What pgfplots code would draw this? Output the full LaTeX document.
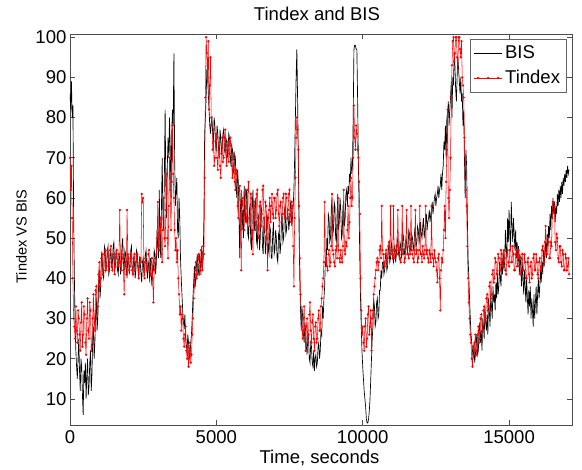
\documentclass[border=0pt]{standalone}
\usepackage{fontspec}
\setmainfont{Liberation Sans}
\usepackage{pgfplots}
\usepackage{pgfplotstable}
\pgfplotsset{compat=1.18}

\pgfplotstableread{
x b t
0 86 70
25 82 62
50 89 68
75 80 55
100 83 40
125 55 30
150 40 28
175 28 25
200 22 33
225 18 27
250 15 24
275 20 32
300 25 30
325 17 26
350 12 22
375 20 29
400 18 34
425 11 23
450 6 26
475 17 33
500 14 31
525 19 24
550 10 21
575 16 30
600 20 35
625 11 27
650 13 25
675 19 34
700 22 32
725 12 22
750 16 23
775 25 30
800 28 36
825 20 27
850 24 30
875 31 37
900 35 38
925 27 31
950 30 33
975 38 41
1000 42 44
1025 35 38
1050 38 40
1075 46 45
1100 45 46
1125 41 41
1150 40 42
1175 48 46
1200 47 47
1225 42 42
1250 43 43
1275 47 47
1300 48 46
1325 41 42
1350 42 44
1375 47 47
1400 46 48
1425 43 43
1450 44 42
1475 48 46
1500 49 45
1525 42 41
1550 43 44
1575 47 46
1600 46 47
1625 42 43
1650 41 43
1675 46 46
1700 45 57
1725 41 44
1750 43 42
1775 48 46
1800 50 45
1825 44 42
1850 42 36
1875 47 43
1900 46 44
1925 42 41
1950 40 57
1975 46 46
2000 45 45
2025 41 42
2050 43 43
2075 47 46
2100 48 45
2125 42 42
2150 41 41
2175 45 45
2200 44 46
2225 40 42
2250 42 44
2275 47 46
2300 46 46
2325 42 43
2350 40 40
2375 45 44
2400 44 45
2425 41 44
2450 39 61
2475 44 59
2500 45 60
2525 41 44
2550 42 40
2575 46 45
2600 47 44
2625 42 42
2650 40 43
2675 44 46
2700 43 47
2725 39 42
2750 45 41
2775 41 44
2800 38 45
2825 43 40
2850 42 34
2875 47 42
2900 46 44
2925 41 45
2950 44 46
2975 52 50
3000 48 59
3025 45 48
3050 62 47
3075 50 51
3100 45 55
3125 58 46
3150 70 44
3175 55 52
3200 52 60
3225 66 50
3250 82 48
3275 62 57
3300 55 66
3325 68 50
3350 75 45
3375 70 58
3400 80 70
3425 72 62
3450 60 52
3475 76 64
3500 82 78
3525 78 66
3550 96 60
3575 70 52
3600 58 47
3625 62 50
3650 65 44
3675 52 47
3700 50 40
3725 60 36
3750 55 31
3775 45 33
3800 40 27
3825 36 31
3850 32 30
3875 29 25
3900 28 23
3925 31 26
3950 25 28
3975 23 22
4000 22 20
4025 26 23
4050 24 18
4075 20 22
4100 21 24
4125 24 19
4150 26 21
4175 30 26
4200 35 30
4225 39 35
4250 43 38
4275 38 42
4300 40 44
4325 44 40
4350 46 41
4375 41 45
4400 42 46
4425 46 41
4450 44 42
4475 41 47
4500 48 45
4525 43 42
4550 45 48
4575 55 46
4600 76 65
4625 80 85
4650 85 100
4675 92 96
4700 90 90
4725 86 99
4750 82 82
4775 78 88
4800 76 95
4825 79 80
4850 80 78
4875 76 72
4900 74 74
4925 80 68
4950 78 70
4975 73 74
5000 72 76
5025 78 70
5050 76 67
5075 72 72
5100 70 73
5125 77 68
5150 75 65
5175 71 71
5200 73 75
5225 76 69
5250 77 70
5275 72 75
5300 71 77
5325 75 72
5350 74 68
5375 70 73
5400 72 74
5425 76 69
5450 75 71
5475 70 75
5500 68 73
5525 73 68
5550 72 65
5575 67 71
5600 66 70
5625 71 64
5650 70 62
5675 63 67
5700 60 66
5725 67 58
5750 64 55
5775 55 62
5800 45 63
5825 58 52
5850 62 42
5875 52 58
5900 57 60
5925 50 55
5950 63 52
5975 56 61
6000 54 62
6025 62 54
6050 60 55
6075 51 62
6100 50 64
6125 57 55
6150 58 53
6175 49 61
6200 47 60
6225 58 52
6250 62 46
6275 54 59
6300 52 58
6325 60 52
6350 58 54
6375 49 61
6400 48 62
6425 56 55
6450 55 50
6475 47 58
6500 50 59
6525 58 53
6550 57 56
6575 48 62
6600 46 63
6625 54 55
6650 53 52
6675 46 59
6700 49 58
6725 56 50
6750 55 42
6775 47 55
6800 46 57
6825 53 60
6850 52 54
6875 45 58
6900 45 61
6925 51 56
6950 54 55
6975 46 60
7000 47 60
7025 52 55
7050 50 57
7075 45 61
7100 44 62
7125 51 56
7150 52 53
7175 46 58
7200 48 59
7225 54 54
7250 55 56
7275 49 60
7300 50 61
7325 57 56
7350 58 55
7375 51 61
7400 52 60
7425 57 55
7450 56 57
7475 52 61
7500 54 62
7525 59 56
7550 58 54
7575 53 59
7600 55 58
7625 58 48
7650 62 38
7675 70 55
7700 80 65
7725 90 75
7750 97 80
7775 85 77
7800 70 72
7825 52 58
7850 40 45
7875 32 36
7900 27 32
7925 33 28
7950 30 25
7975 26 30
8000 24 33
8025 29 27
8050 27 22
8075 23 28
8100 21 30
8125 26 24
8150 25 26
8175 20 31
8200 19 34
8225 24 27
8250 23 24
8275 19 29
8300 18 31
8325 22 25
8350 17 22
8375 20 28
8400 21 29
8425 18 24
8450 19 25
8475 23 30
8500 24 32
8525 20 27
8550 22 27
8575 27 33
8600 26 35
8625 33 38
8650 30 40
8675 35 44
8700 38 59
8725 45 44
8750 43 45
8775 50 43
8800 47 42
8825 56 46
8850 55 47
8875 49 43
8900 50 44
8925 57 48
8950 60 61
8975 51 47
9000 52 46
9025 59 44
9050 58 43
9075 50 47
9100 49 48
9125 56 45
9150 61 60
9175 52 47
9200 54 45
9225 60 44
9250 57 47
9275 50 45
9300 51 44
9325 58 48
9350 59 62
9375 53 47
9400 55 46
9425 61 49
9450 62 48
9475 58 52
9500 63 58
9525 61 50
9550 66 54
9575 64 60
9600 70 65
9625 66 58
9650 68 60
9675 80 70
9700 97 83
9725 98 75
9750 98 72
9775 97 78
9800 97 76
9825 85 72
9850 70 70
9875 58 64
9900 45 56
9925 35 40
9950 28 32
9975 22 26
10000 18 28
10025 15 24
10050 12 22
10075 10 28
10100 8 30
10125 5 23
10150 4 25
10175 4 31
10200 5 33
10225 7 26
10250 10 28
10275 15 32
10300 20 22
10325 25 30
10350 28 32
10375 35 36
10400 33 38
10425 28 40
10450 29 42
10475 34 44
10500 35 45
10525 30 42
10550 31 44
10575 37 47
10600 37 48
10625 42 45
10650 40 58
10675 44 47
10700 44 46
10725 41 44
10750 42 43
10775 46 46
10800 46 47
10825 42 44
10850 43 45
10875 48 48
10900 47 49
10925 44 46
10950 45 58
10975 49 47
11000 48 46
11025 45 45
11050 44 58
11075 48 47
11100 47 45
11125 44 47
11150 46 48
11175 50 46
11200 49 57
11225 46 47
11250 45 46
11275 49 45
11300 48 44
11325 45 47
11350 47 58
11375 51 46
11400 50 47
11425 46 44
11450 46 45
11475 50 48
11500 49 57
11525 46 46
11550 48 46
11575 52 45
11600 51 48
11625 47 46
11650 47 58
11675 51 47
11700 50 46
11725 47 45
11750 48 44
11775 52 47
11800 51 57
11825 48 46
11850 49 47
11875 53 44
11900 52 45
11925 49 47
11950 50 58
11975 54 46
12000 51 46
12025 50 44
12050 53 48
12075 55 46
12100 50 45
12125 52 47
12150 54 58
12175 56 46
12200 52 47
12225 54 45
12250 55 44
12275 57 47
12300 54 46
12325 56 44
12350 57 58
12375 59 46
12400 56 45
12425 58 43
12450 60 47
12475 61 45
12500 58 44
12525 60 42
12550 61 39
12575 63 45
12600 60 46
12625 62 40
12650 63 32
12675 66 42
12700 62 45
12725 66 44
12750 68 47
12775 74 52
12800 72 58
12825 78 50
12850 70 64
12875 80 72
12900 81 82
12925 84 60
12950 78 55
12975 82 62
13000 85 70
13025 89 85
13050 80 93
13075 90 99
13100 88 100
13125 96 94
13150 93 96
13175 87 100
13200 84 100
13225 90 95
13250 95 92
13275 92 100
13300 89 100
13325 86 97
13350 90 95
13375 84 99
13400 86 90
13425 78 88
13450 82 85
13475 70 75
13500 60 65
13525 72 62
13550 68 58
13575 55 48
13600 45 40
13625 40 34
13650 35 30
13675 30 26
13700 26 24
13725 24 20
13750 22 18
13775 20 23
13800 24 22
13825 19 24
13850 21 26
13875 24 22
13900 26 21
13925 21 26
13950 22 28
13975 27 24
14000 29 25
14025 24 30
14050 27 31
14075 22 27
14100 30 27
14125 28 32
14150 25 33
14175 33 29
14200 29 30
14225 27 35
14250 31 36
14275 26 32
14300 35 33
14325 32 38
14350 28 39
14375 36 35
14400 33 36
14425 30 41
14450 38 42
14475 34 39
14500 36 40
14525 32 45
14550 39 44
14575 35 41
14600 41 41
14625 36 46
14650 38 45
14675 44 42
14700 40 42
14725 38 47
14750 45 46
14775 41 43
14800 47 43
14825 42 47
14850 44 45
14875 52 42
14900 47 41
14925 45 46
14950 55 47
14975 49 44
15000 57 43
15025 51 47
15050 47 48
15075 59 44
15100 53 44
15125 49 48
15150 55 46
15175 51 42
15200 47 42
15225 52 46
15250 45 47
15275 49 43
15300 44 43
15325 48 47
15350 41 45
15375 46 41
15400 43 41
15425 38 45
15450 44 46
15475 40 42
15500 36 42
15525 42 46
15550 38 44
15575 34 40
15600 40 40
15625 35 44
15650 31 45
15675 37 41
15700 33 39
15725 38 43
15750 30 44
15775 35 40
15800 32 41
15825 28 45
15850 36 46
15875 30 42
15900 34 42
15925 38 46
15950 31 44
15975 36 41
16000 40 40
16025 35 44
16050 38 45
16075 42 42
16100 39 43
16125 44 47
16150 41 48
16175 47 44
16200 43 44
16225 46 49
16250 49 53
16275 45 46
16300 51 46
16325 48 50
16350 53 49
16375 50 45
16400 56 45
16425 52 49
16450 58 48
16475 55 55
16500 60 59
16525 56 59
16550 59 58
16575 54 49
16600 58 47
16625 56 51
16650 61 50
16675 58 45
16700 62 44
16725 59 48
16750 63 48
16775 60 44
16800 64 43
16825 61 47
16850 65 46
16875 63 42
16900 66 42
16925 64 46
16950 67 45
16975 65 42
17000 68 43
17025 66 45
17050 67 41
}\data

\begin{document}
\begin{tikzpicture}
\def\fs{\fontsize{13.9}{16}\selectfont}
\begin{axis}[
  name=ax, at={(0,0)}, anchor=south west,
  scale only axis, width=376.5pt, height=293.25pt,
  xmin=0, xmax=17150, ymin=3.5, ymax=100.8,
  xtick={0,5000,10000,15000}, ytick={10,20,...,100},
  scaled x ticks=false,
  /pgf/number format/assume math mode=true,
  /pgf/number format/1000 sep={},
  tick align=inside, major tick length=3.5pt,
  tick style={black!70, line width=0.4pt},
  axis line style={black!70, line width=0.5pt},
  tick label style={font=\fs},
  yticklabel style={inner sep=0pt, xshift=-2.5pt},
  xticklabel style={inner sep=0pt, yshift=-3.75pt},
  title={Tindex and BIS},
  title style={font=\fs, at={(axis description cs:0.492,1.0341)}, anchor=base, yshift=-6pt},
  xlabel={Time, seconds},
  xlabel style={font=\fs, at={(axis description cs:0.497,-0.0972)}, anchor=base},
  ylabel={Tindex VS BIS},
  ylabel style={font=\fontsize{10.9}{13}\selectfont, at={(axis description cs:-0.0863,0.482)}, anchor=base, rotate=0},
  legend style={at={(axis description cs:0.990,0.987)}, anchor=north east,
    draw=black!60, font=\fs, row sep=3pt, inner xsep=3pt, inner ysep=3pt},
  legend cell align=left,
  legend image code/.code={\draw[#1] (0pt,0pt) -- (21pt,0pt);
     \draw[#1, only marks] plot coordinates {(3pt,0pt) (10.5pt,0pt) (18pt,0pt)};},
]
\addplot[black, line width=0.5pt] table[x=x, y=b] {\data};
\addlegendentry{BIS}
\addplot[red, line width=0.4pt, mark=*, mark size=0.65pt] table[x=x, y=t] {\data};
\addlegendentry{Tindex}
\end{axis}
\pgfresetboundingbox
\path[use as bounding box] (-52.5pt,-33.75pt) rectangle (384pt,318.75pt);
\end{tikzpicture}
\end{document}
